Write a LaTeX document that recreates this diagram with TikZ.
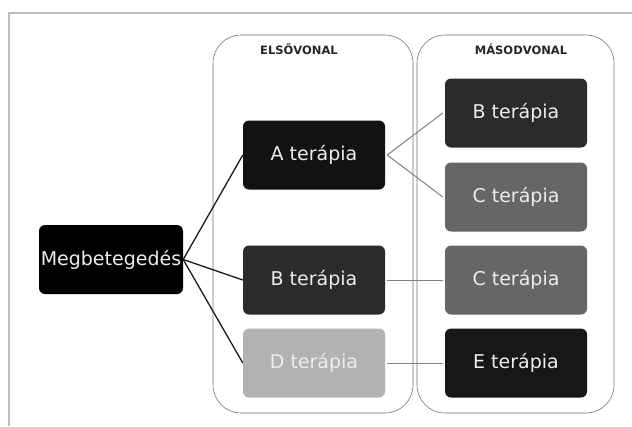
\documentclass[tikz,border=0pt]{standalone}
\usepackage{fontspec}
\setmainfont{DejaVu Sans}
\usepackage{tikz}
\usetikzlibrary{calc}

\begin{document}
\begin{tikzpicture}[x=1pt, y=-1pt,
                        terapia/.style={rounded corners=6pt, minimum width=142pt, minimum height=69pt, inner sep=0pt, text=white!93!black, font=\fontsize{19}{22}\selectfont},
                        oszlop/.style={draw=black!55, semithick, rounded corners=28pt, minimum height=378pt, inner sep=0pt},
                        fej/.style={font=\fontsize{11.5}{13}\selectfont\bfseries, text=black!85},
                        fovonal/.style={black!90, line width=1.3pt},
                        kisvonal/.style={black!50, line width=1pt}]
                        \useasboundingbox (0,0) rectangle (632,426);
                        \draw[black!25, line width=2pt] (9,426) -- (9,13) -- (632,13);
                        % oszlopok
                        \node[oszlop, minimum width=200pt] (elso) at (313,224) {};
                        \node[oszlop, minimum width=197pt] (masod) at (515.5,224) {};
                        \node[fej] (elsofej) at (299,49) {ELSŐVONAL};
                        \node[fej] (masodfej) at (521,49) {MÁSODVONAL};
                        % csomopontok
                        \node[terapia, fill=black, minimum width=144pt] (beteg) at (111,259.5) {Megbetegedés};
                        \node[terapia, fill=black!93] (a1) at (314,155) {A terápia};
                        \node[terapia, fill=black!83] (b1) at (314,280) {B terápia};
                        \node[terapia, fill=black!30] (d1) at (314,363) {D terápia};
                        \node[terapia, fill=black!83] (b2) at (516,113) {B terápia};
                        \node[terapia, fill=black!60] (c2) at (516,197) {C terápia};
                        \node[terapia, fill=black!60] (c3) at (516,280) {C terápia};
                        \node[terapia, fill=black!91] (e2) at (516,363) {E terápia};
                        % vonalak
                        \draw[fovonal] (beteg.east) -- (a1.west);
                        \draw[fovonal] (beteg.east) -- (b1.west);
                        \draw[fovonal] (beteg.east) -- (d1.west);
                        \draw[kisvonal] ([xshift=2pt]a1.east) -- ([xshift=-2pt]b2.west);
                        \draw[kisvonal] ([xshift=2pt]a1.east) -- ([xshift=-2pt]c2.west);
                        \draw[kisvonal] ([xshift=2pt]b1.east) -- ([xshift=-2pt]c3.west);
                        \draw[kisvonal] ([xshift=2pt]d1.east) -- ([xshift=-2pt]e2.west);
                \end{tikzpicture}
\end{document}
